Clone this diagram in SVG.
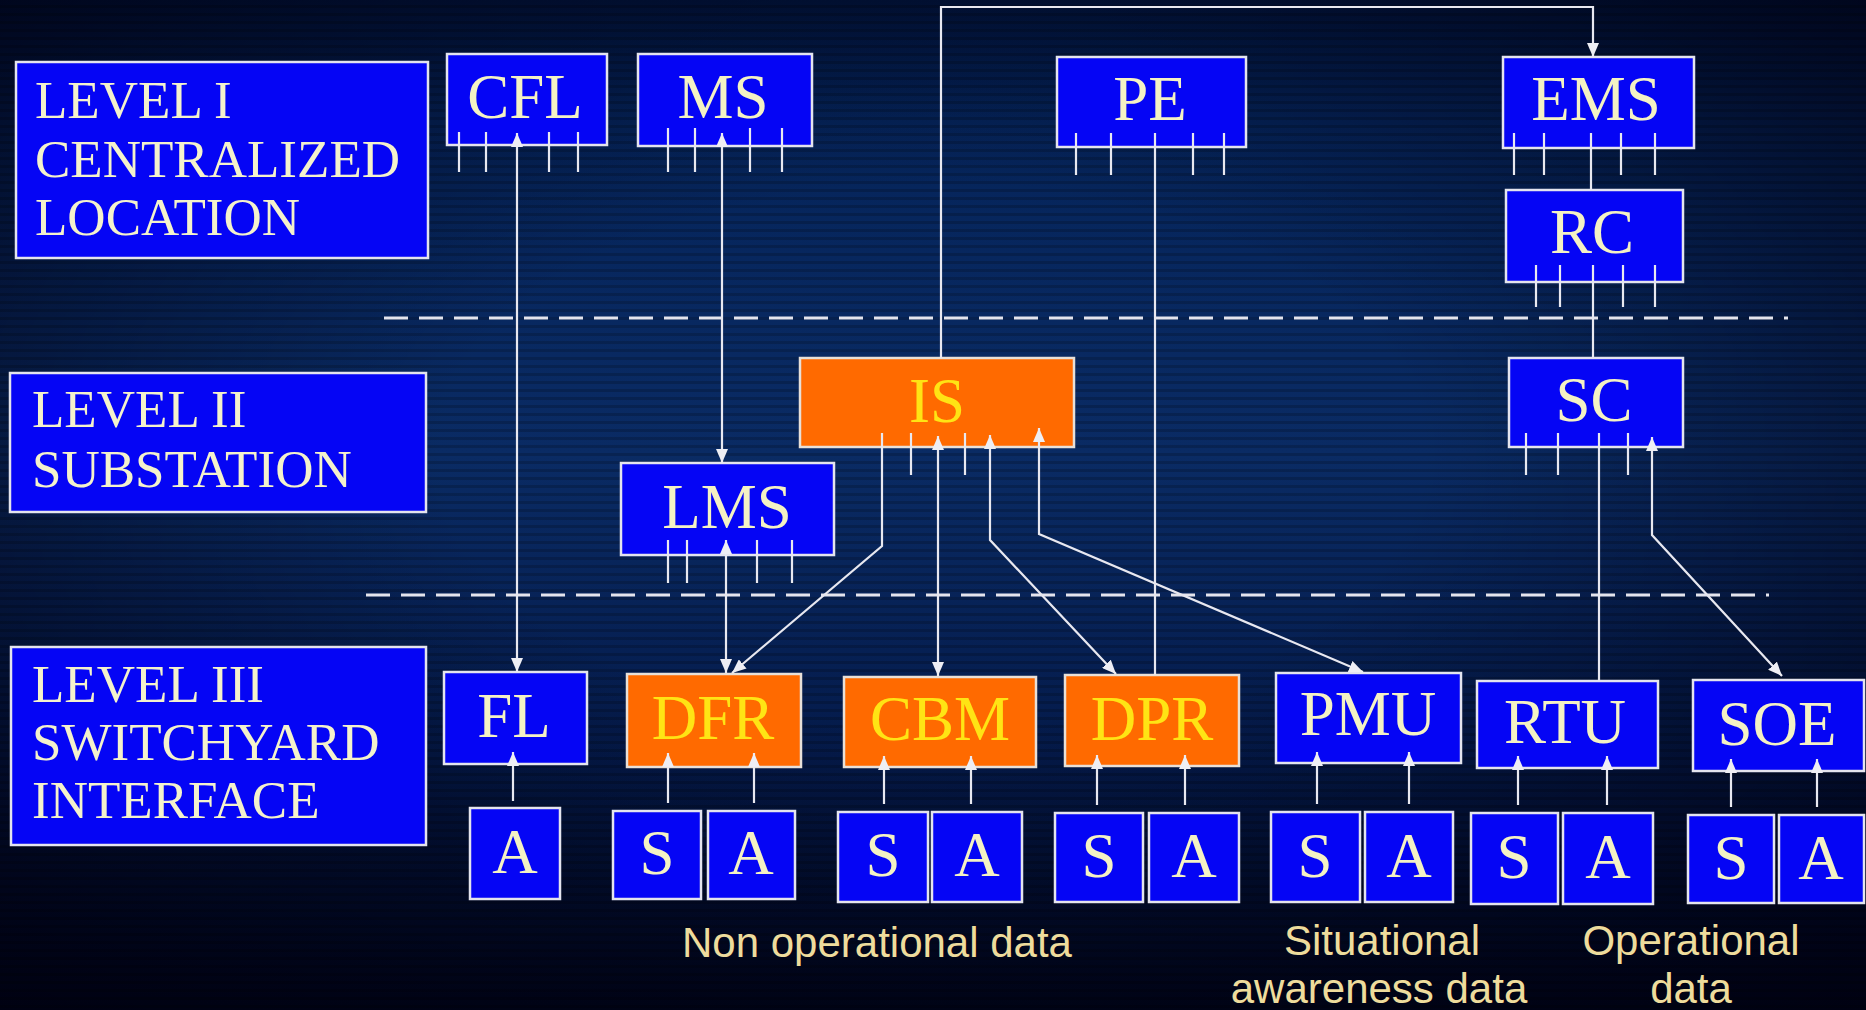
<svg xmlns="http://www.w3.org/2000/svg" width="1866" height="1010" viewBox="0 0 1866 1010">
<defs>
  <linearGradient id="bgv" x1="0" y1="0" x2="0" y2="1">
    <stop offset="0" stop-color="#011640"/>
    <stop offset="0.12" stop-color="#05245a"/>
    <stop offset="0.45" stop-color="#0a2b64"/>
    <stop offset="0.75" stop-color="#041a4a"/>
    <stop offset="1" stop-color="#00061c"/>
  </linearGradient>
  <radialGradient id="vig" cx="0.5" cy="0.45" r="0.75">
    <stop offset="0.35" stop-color="#000010" stop-opacity="0"/>
    <stop offset="1" stop-color="#000010" stop-opacity="0.85"/>
  </radialGradient>
  <pattern id="stripes" width="8" height="8" patternUnits="userSpaceOnUse">
    <rect x="0" y="5" width="8" height="3" fill="#000000" opacity="0.18"/>
  </pattern>
  <marker id="ah" viewBox="0 0 14 12" refX="14" refY="6" markerWidth="14" markerHeight="12" markerUnits="userSpaceOnUse" orient="auto-start-reverse">
    <path d="M0,0 L14,6 L0,12 Z" fill="#EEEEF4"/>
  </marker>
  <style>
    .box { fill: #0505F5; stroke: #E4E4EE; stroke-width: 2.5; }
    .obox { fill: #FF6A00; stroke: #E8E0D8; stroke-width: 2.5; }
    .lvl { font-family: "Liberation Serif", "Times New Roman", serif; font-size: 53px; fill: #F4F2CC; }
    .nt { font-family: "Liberation Serif", "Times New Roman", serif; font-size: 63px; fill: #F4F2C4; text-anchor: middle; }
    .ot { font-family: "Liberation Serif", "Times New Roman", serif; font-size: 63px; fill: #FFE414; text-anchor: middle; }
    .cap { font-family: "Liberation Sans", Arial, sans-serif; font-size: 42px; fill: #EEDC9C; text-anchor: middle; }
    .ln { stroke: #E8E8F0; stroke-width: 2.2; fill: none; }
    .tk { stroke: #E8E8F0; stroke-width: 2.2; }
    .dash { stroke: #E4E4EC; stroke-width: 3; stroke-dasharray: 24 11; }
  </style>
</defs>

<g id="background">
  <rect x="0" y="0" width="1866" height="1010" fill="url(#bgv)"/>
  <rect x="0" y="0" width="1866" height="1010" fill="url(#vig)"/>
  <rect x="0" y="0" width="1866" height="1010" fill="url(#stripes)"/>
</g>

<g id="separators">
  <line class="dash" x1="384" y1="318" x2="1788" y2="318"/>
  <line class="dash" x1="366" y1="595" x2="1769" y2="595"/>
</g>

<g id="level1"><rect class="box" x="16" y="62" width="412" height="196"/>
  <text class="lvl" x="35" y="118">LEVEL I</text>
  <text class="lvl" x="35" y="177">CENTRALIZED</text>
  <text class="lvl" x="35" y="235">LOCATION</text></g>
<g id="level2"><rect class="box" x="10" y="373" width="416" height="139"/>
  <text class="lvl" x="32" y="427">LEVEL II</text>
  <text class="lvl" x="32" y="487">SUBSTATION</text></g>
<g id="level3"><rect class="box" x="11" y="647" width="415" height="198"/>
  <text class="lvl" x="32" y="702">LEVEL III</text>
  <text class="lvl" x="32" y="760">SWITCHYARD</text>
  <text class="lvl" x="32" y="818">INTERFACE</text></g>

<g id="CFL"><rect class="box" x="447" y="54" width="160" height="91"/><text class="nt" x="525" y="118">CFL</text></g>
<g id="MS"><rect class="box" x="638" y="54" width="174" height="92"/><text class="nt" x="723" y="118">MS</text></g>
<g id="PE"><rect class="box" x="1057" y="57" width="189" height="90"/><text class="nt" x="1150" y="120">PE</text></g>
<g id="EMS"><rect class="box" x="1503" y="57" width="191" height="91"/><text class="nt" x="1596" y="120">EMS</text></g>
<g id="RC"><rect class="box" x="1506" y="190" width="177" height="92"/><text class="nt" x="1592" y="253">RC</text></g>
<g id="IS"><rect class="obox" x="800" y="358" width="274" height="89"/><text class="ot" x="937" y="422">IS</text></g>
<g id="SC"><rect class="box" x="1509" y="358" width="174" height="89"/><text class="nt" x="1594" y="421">SC</text></g>
<g id="LMS"><rect class="box" x="621" y="463" width="213" height="92"/><text class="nt" x="727" y="528">LMS</text></g>

<g id="FL"><rect class="box" x="444" y="672" width="143" height="92"/><text class="nt" x="514" y="737">FL</text></g>
<g id="DFR"><rect class="obox" x="627" y="674" width="174" height="93"/><text class="ot" x="713" y="739">DFR</text></g>
<g id="CBM"><rect class="obox" x="844" y="677" width="192" height="90"/><text class="ot" x="940" y="740">CBM</text></g>
<g id="DPR"><rect class="obox" x="1065" y="675" width="174" height="91"/><text class="ot" x="1152" y="740">DPR</text></g>
<g id="PMU"><rect class="box" x="1276" y="673" width="185" height="90"/><text class="nt" x="1368" y="735">PMU</text></g>
<g id="RTU"><rect class="box" x="1477" y="681" width="181" height="87"/><text class="nt" x="1565" y="743">RTU</text></g>
<g id="SOE"><rect class="box" x="1693" y="680" width="171" height="91"/><text class="nt" x="1777" y="745">SOE</text></g>

<g id="FL_A"><rect class="box" x="470" y="808" width="90" height="91"/><text class="nt" x="515" y="873">A</text></g>
<g id="DFR_S"><rect class="box" x="613" y="811" width="88" height="88"/><text class="nt" x="657" y="874">S</text></g>
<g id="DFR_A"><rect class="box" x="708" y="811" width="87" height="88"/><text class="nt" x="751" y="874">A</text></g>
<g id="CBM_S"><rect class="box" x="838" y="812" width="90" height="90"/><text class="nt" x="883" y="876">S</text></g>
<g id="CBM_A"><rect class="box" x="932" y="812" width="90" height="90"/><text class="nt" x="977" y="876">A</text></g>
<g id="DPR_S"><rect class="box" x="1055" y="813" width="88" height="89"/><text class="nt" x="1099" y="877">S</text></g>
<g id="DPR_A"><rect class="box" x="1149" y="813" width="90" height="89"/><text class="nt" x="1194" y="877">A</text></g>
<g id="PMU_S"><rect class="box" x="1271" y="812" width="89" height="90"/><text class="nt" x="1315" y="877">S</text></g>
<g id="PMU_A"><rect class="box" x="1365" y="812" width="88" height="90"/><text class="nt" x="1409" y="877">A</text></g>
<g id="RTU_S"><rect class="box" x="1471" y="813" width="87" height="91"/><text class="nt" x="1514" y="878">S</text></g>
<g id="RTU_A"><rect class="box" x="1563" y="813" width="90" height="91"/><text class="nt" x="1608" y="878">A</text></g>
<g id="SOE_S"><rect class="box" x="1688" y="815" width="86" height="88"/><text class="nt" x="1731" y="879">S</text></g>
<g id="SOE_A"><rect class="box" x="1779" y="815" width="85" height="88"/><text class="nt" x="1821" y="879">A</text></g>

<g id="ticks">
  <line class="tk" x1="459" y1="132" x2="459" y2="172"/>
  <line class="tk" x1="486" y1="132" x2="486" y2="172"/>
  <line class="tk" x1="549" y1="132" x2="549" y2="172"/>
  <line class="tk" x1="578" y1="132" x2="578" y2="172"/>
  <line class="tk" x1="668" y1="128" x2="668" y2="172"/>
  <line class="tk" x1="695" y1="128" x2="695" y2="172"/>
  <line class="tk" x1="750" y1="128" x2="750" y2="172"/>
  <line class="tk" x1="782" y1="128" x2="782" y2="172"/>
  <line class="tk" x1="1076" y1="133" x2="1076" y2="175"/>
  <line class="tk" x1="1111" y1="133" x2="1111" y2="175"/>
  <line class="tk" x1="1193" y1="133" x2="1193" y2="175"/>
  <line class="tk" x1="1224" y1="133" x2="1224" y2="175"/>
  <line class="tk" x1="1514" y1="133" x2="1514" y2="175"/>
  <line class="tk" x1="1544" y1="133" x2="1544" y2="175"/>
  <line class="tk" x1="1621" y1="133" x2="1621" y2="175"/>
  <line class="tk" x1="1655" y1="133" x2="1655" y2="175"/>
  <line class="tk" x1="1536" y1="265" x2="1536" y2="307"/>
  <line class="tk" x1="1560" y1="265" x2="1560" y2="307"/>
  <line class="tk" x1="1623" y1="265" x2="1623" y2="307"/>
  <line class="tk" x1="1655" y1="265" x2="1655" y2="307"/>
  <line class="tk" x1="911" y1="433" x2="911" y2="475"/>
  <line class="tk" x1="965" y1="433" x2="965" y2="475"/>
  <line class="tk" x1="1526" y1="433" x2="1526" y2="475"/>
  <line class="tk" x1="1558" y1="433" x2="1558" y2="475"/>
  <line class="tk" x1="1628" y1="433" x2="1628" y2="475"/>
  <line class="tk" x1="668" y1="540" x2="668" y2="583"/>
  <line class="tk" x1="687" y1="540" x2="687" y2="583"/>
  <line class="tk" x1="757" y1="540" x2="757" y2="583"/>
  <line class="tk" x1="792" y1="540" x2="792" y2="583"/>
</g>

<g id="connectors">
  <line class="ln" x1="517" y1="133" x2="517" y2="672" marker-start="url(#ah)" marker-end="url(#ah)"/>
  <line class="ln" x1="722" y1="133" x2="722" y2="463" marker-start="url(#ah)" marker-end="url(#ah)"/>
  <line class="ln" x1="726" y1="540" x2="726" y2="673" marker-start="url(#ah)" marker-end="url(#ah)"/>
  <polyline class="ln" points="941,358 941,7 1593,7 1593,57" marker-end="url(#ah)"/>
  <line class="ln" x1="1155" y1="133" x2="1155" y2="675"/>
  <line class="ln" x1="1591" y1="133" x2="1591" y2="190"/>
  <line class="ln" x1="1593" y1="265" x2="1593" y2="358"/>
  <line class="ln" x1="1599" y1="433" x2="1599" y2="681"/>
  <polyline class="ln" points="882,433 882,546 732,673" marker-end="url(#ah)"/>
  <line class="ln" x1="938" y1="436" x2="938" y2="676" marker-start="url(#ah)" marker-end="url(#ah)"/>
  <polyline class="ln" points="990,435 990,540 1116,674" marker-start="url(#ah)" marker-end="url(#ah)"/>
  <polyline class="ln" points="1039,428 1039,534 1363,672" marker-start="url(#ah)" marker-end="url(#ah)"/>
  <polyline class="ln" points="1652,437 1652,535 1782,676" marker-start="url(#ah)" marker-end="url(#ah)"/>
  <line class="ln" x1="513" y1="801" x2="513" y2="752" marker-end="url(#ah)"/>
  <line class="ln" x1="668" y1="803" x2="668" y2="753" marker-end="url(#ah)"/>
  <line class="ln" x1="754" y1="803" x2="754" y2="753" marker-end="url(#ah)"/>
  <line class="ln" x1="884" y1="804" x2="884" y2="756" marker-end="url(#ah)"/>
  <line class="ln" x1="971" y1="804" x2="971" y2="756" marker-end="url(#ah)"/>
  <line class="ln" x1="1097" y1="805" x2="1097" y2="755" marker-end="url(#ah)"/>
  <line class="ln" x1="1185" y1="805" x2="1185" y2="755" marker-end="url(#ah)"/>
  <line class="ln" x1="1317" y1="804" x2="1317" y2="752" marker-end="url(#ah)"/>
  <line class="ln" x1="1409" y1="804" x2="1409" y2="752" marker-end="url(#ah)"/>
  <line class="ln" x1="1518" y1="805" x2="1518" y2="756" marker-end="url(#ah)"/>
  <line class="ln" x1="1607" y1="805" x2="1607" y2="756" marker-end="url(#ah)"/>
  <line class="ln" x1="1731" y1="807" x2="1731" y2="759" marker-end="url(#ah)"/>
  <line class="ln" x1="1817" y1="807" x2="1817" y2="759" marker-end="url(#ah)"/>
</g>

<g id="captions">
  <text class="cap" x="877" y="957">Non operational data</text>
  <text class="cap" x="1382" y="955">Situational</text>
  <text class="cap" x="1379" y="1003">awareness data</text>
  <text class="cap" x="1691" y="955">Operational</text>
  <text class="cap" x="1691" y="1003">data</text>
</g>
</svg>
